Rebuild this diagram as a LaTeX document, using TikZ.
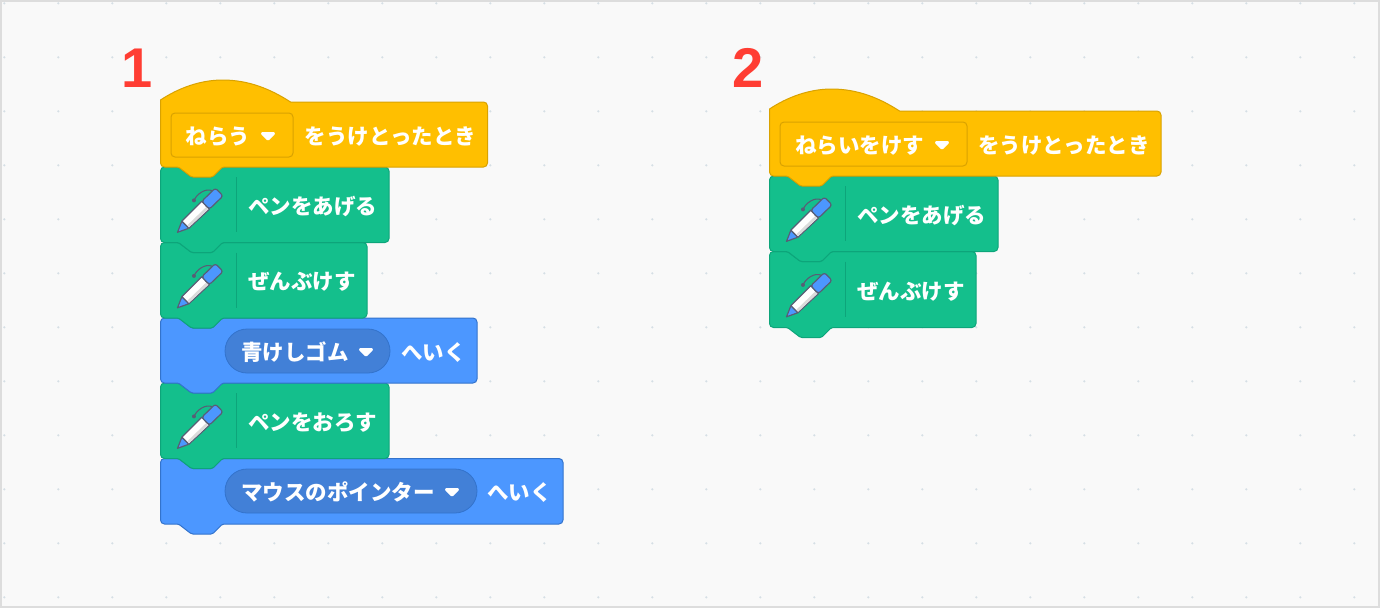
\documentclass[tikz,border=0pt]{standalone}
\usepackage{fontspec}
\newfontfamily\cjk{Noto Sans CJK JP}
\setmainfont{Liberation Sans}
\definecolor{bgc}{HTML}{F9F9F9}
\definecolor{edgec}{HTML}{DDDDDD}
\definecolor{dotc}{HTML}{D5DFE5}
\definecolor{yel}{HTML}{FFBF00}
\definecolor{yelS}{HTML}{D9A200}
\definecolor{grn}{HTML}{14BF8C}
\definecolor{grnS}{HTML}{0DA57A}
\definecolor{blu}{HTML}{4C97FF}
\definecolor{bluS}{HTML}{3373CC}
\definecolor{pill}{HTML}{4280D7}
\definecolor{redn}{HTML}{FF3D33}
\definecolor{penb}{HTML}{4C97FF}
\definecolor{pens}{HTML}{575E75}
\tikzset{
  blocktext/.style={anchor=west,inner sep=0pt,text=white,font=\cjk\bfseries\fontsize{21.5}{21.5}\selectfont,text height=18pt,text depth=3pt},
  numlabel/.style={anchor=base,inner sep=0pt,text=redn,font=\bfseries\fontsize{56}{56}\selectfont},
  ddbox/.style={draw=yelS,fill=yel,line width=1pt,rounded corners=4pt},
  ddpill/.style={draw=bluS,fill=pill,line width=0.8pt,rounded corners=22pt},
  ddarrow/.style={fill=white,draw=white,line width=3pt,line join=round},
  sepline/.style={draw=grnS,line width=1pt}
}
% l t r b fill stroke : stacked block with notch and bump
\newcommand{\stackblock}[6]{%
  \draw[fill=#5,draw=#6,line width=1pt,rounded corners=4pt]
    (#1,#2+10) -- (#1,#2) [rounded corners=1.5pt] -- (#1+18,#2) -- (#1+31,#2+10) -- (#1+52,#2+10) -- (#1+62,#2)
    [rounded corners=4pt] -- (#3,#2) -- (#3,#4)
    [rounded corners=1.5pt] -- (#1+62,#4) -- (#1+52,#4+10) -- (#1+31,#4+10) -- (#1+18,#4)
    [rounded corners=4pt] -- (#1,#4) -- cycle;}
% l top right bottom : hat block
\newcommand{\hatblock}[4]{%
  \draw[fill=yel,draw=yelS,line width=1pt]
    (#1,#2-2) .. controls (#1+18,#2-14) and (#1+40,#2-22) .. (#1+62,#2-22)
    .. controls (#1+88,#2-22) and (#1+110,#2-13) .. (#1+130,#2)
    [rounded corners=4pt] -- (#3,#2) -- (#3,#4)
    [rounded corners=1.5pt] -- (#1+62,#4) -- (#1+52,#4+10) -- (#1+31,#4+10) -- (#1+18,#4)
    [rounded corners=4pt] -- (#1,#4) [sharp corners] -- cycle;}
% l top : pen icon and separator
\newcommand{\penicon}[2]{%
  \draw[sepline] (#1+76,#2+10) -- (#1+76,#2+65);
  \begin{scope}[shift={(#1+17,#2+65.3)},rotate=44,line join=round]
    \draw[pens,line width=1.1pt] (54,-5.5) .. controls (51,-13) and (40,-14) .. (34,-11.5);
    \fill[pens] (34,-11.5) circle[radius=2pt];
    \draw[fill=penb,draw=pens,line width=1.2pt] (0,0) -- (11,-5) -- (11,5) -- cycle;
    \draw[fill=white,draw=pens,line width=1.2pt] (11,-5) -- (39,-5.5) -- (39,5.5) -- (11,5) -- cycle;
    \fill[black!14] (12,1.8) -- (38.3,1.8) -- (38.3,4.8) -- (12,4.4) -- cycle;
    \draw[fill=penb,draw=pens,line width=1.2pt,rounded corners=2.5pt] (39,-5.5) -- (58,-5.5) -- (58,5.5) -- (39,5.5) -- cycle;
  \end{scope}}
% cx cy : drop-down arrow
\newcommand{\ddtri}[2]{%
  \filldraw[ddarrow] (#1-5.5,#2-2.5) -- (#1+5.5,#2-2.5) -- (#1,#2+3) -- cycle;}
\begin{document}
\begin{tikzpicture}[x=1pt,y=-1pt]
\useasboundingbox (0,0) rectangle (1380,608);
\fill[bgc] (0,0) rectangle (1380,608);
\foreach \i in {0,...,25}{\foreach \j in {0,...,11}{
  \fill[dotc] (4.3+54*\i,3.3+54*\j) circle[radius=1.2pt];}}
\draw[edgec,line width=2pt] (1,1) rectangle (1379,607);
\node[numlabel] (n1) at (137,87) {1};
\node[numlabel] (n2) at (748,87) {2};
% stack 1 (bottom first)
\stackblock{160.5}{458.5}{563}{524}{blu}{bluS}
\stackblock{160.5}{383}{389}{458.5}{grn}{grnS}
\stackblock{160.5}{318}{477}{383}{blu}{bluS}
\stackblock{160.5}{242.5}{367}{318}{grn}{grnS}
\stackblock{160.5}{167}{389}{242.5}{grn}{grnS}
\hatblock{160.5}{102}{487.5}{167}
\draw[ddbox] (171,113) rectangle (293,157);
\node[blocktext] (a1) at (185.5,136.5) {ねらう};
\ddtri{268}{136}
\node[blocktext] (a2) at (304.5,136.5) {をうけとったとき};
\penicon{160.5}{167}
\node[blocktext] (a3) at (248,206.5) {ペンをあげる};
\penicon{160.5}{242.5}
\node[blocktext] (a4) at (248,281.5) {ぜんぶけす};
\draw[ddpill] (225,329) rectangle (390,373);
\node[blocktext] (a5) at (241,352.5) {青けしゴム};
\ddtri{366}{352}
\node[blocktext] (a6) at (401,352.5) {へいく};
\penicon{160.5}{383}
\node[blocktext] (a7) at (248,422.5) {ペンをおろす};
\draw[ddpill] (225,469) rectangle (477,513);
\node[blocktext] (a8) at (241,492.5) {マウスのポインター};
\ddtri{452}{492}
\node[blocktext] (a9) at (487,492.5) {へいく};
% stack 2
\stackblock{769.5}{251.5}{976}{327.5}{grn}{grnS}
\stackblock{769.5}{176}{998}{251.5}{grn}{grnS}
\hatblock{769.5}{111}{1161}{176}
\draw[ddbox] (780,122) rectangle (967,166);
\node[blocktext] (b1) at (795,145.5) {ねらいをけす};
\ddtri{942}{145}
\node[blocktext] (b2) at (978,145.5) {をうけとったとき};
\penicon{769.5}{176}
\node[blocktext] (b3) at (857,215.5) {ペンをあげる};
\penicon{769.5}{251.5}
\node[blocktext] (b4) at (857,291.5) {ぜんぶけす};
\end{tikzpicture}
\end{document}
